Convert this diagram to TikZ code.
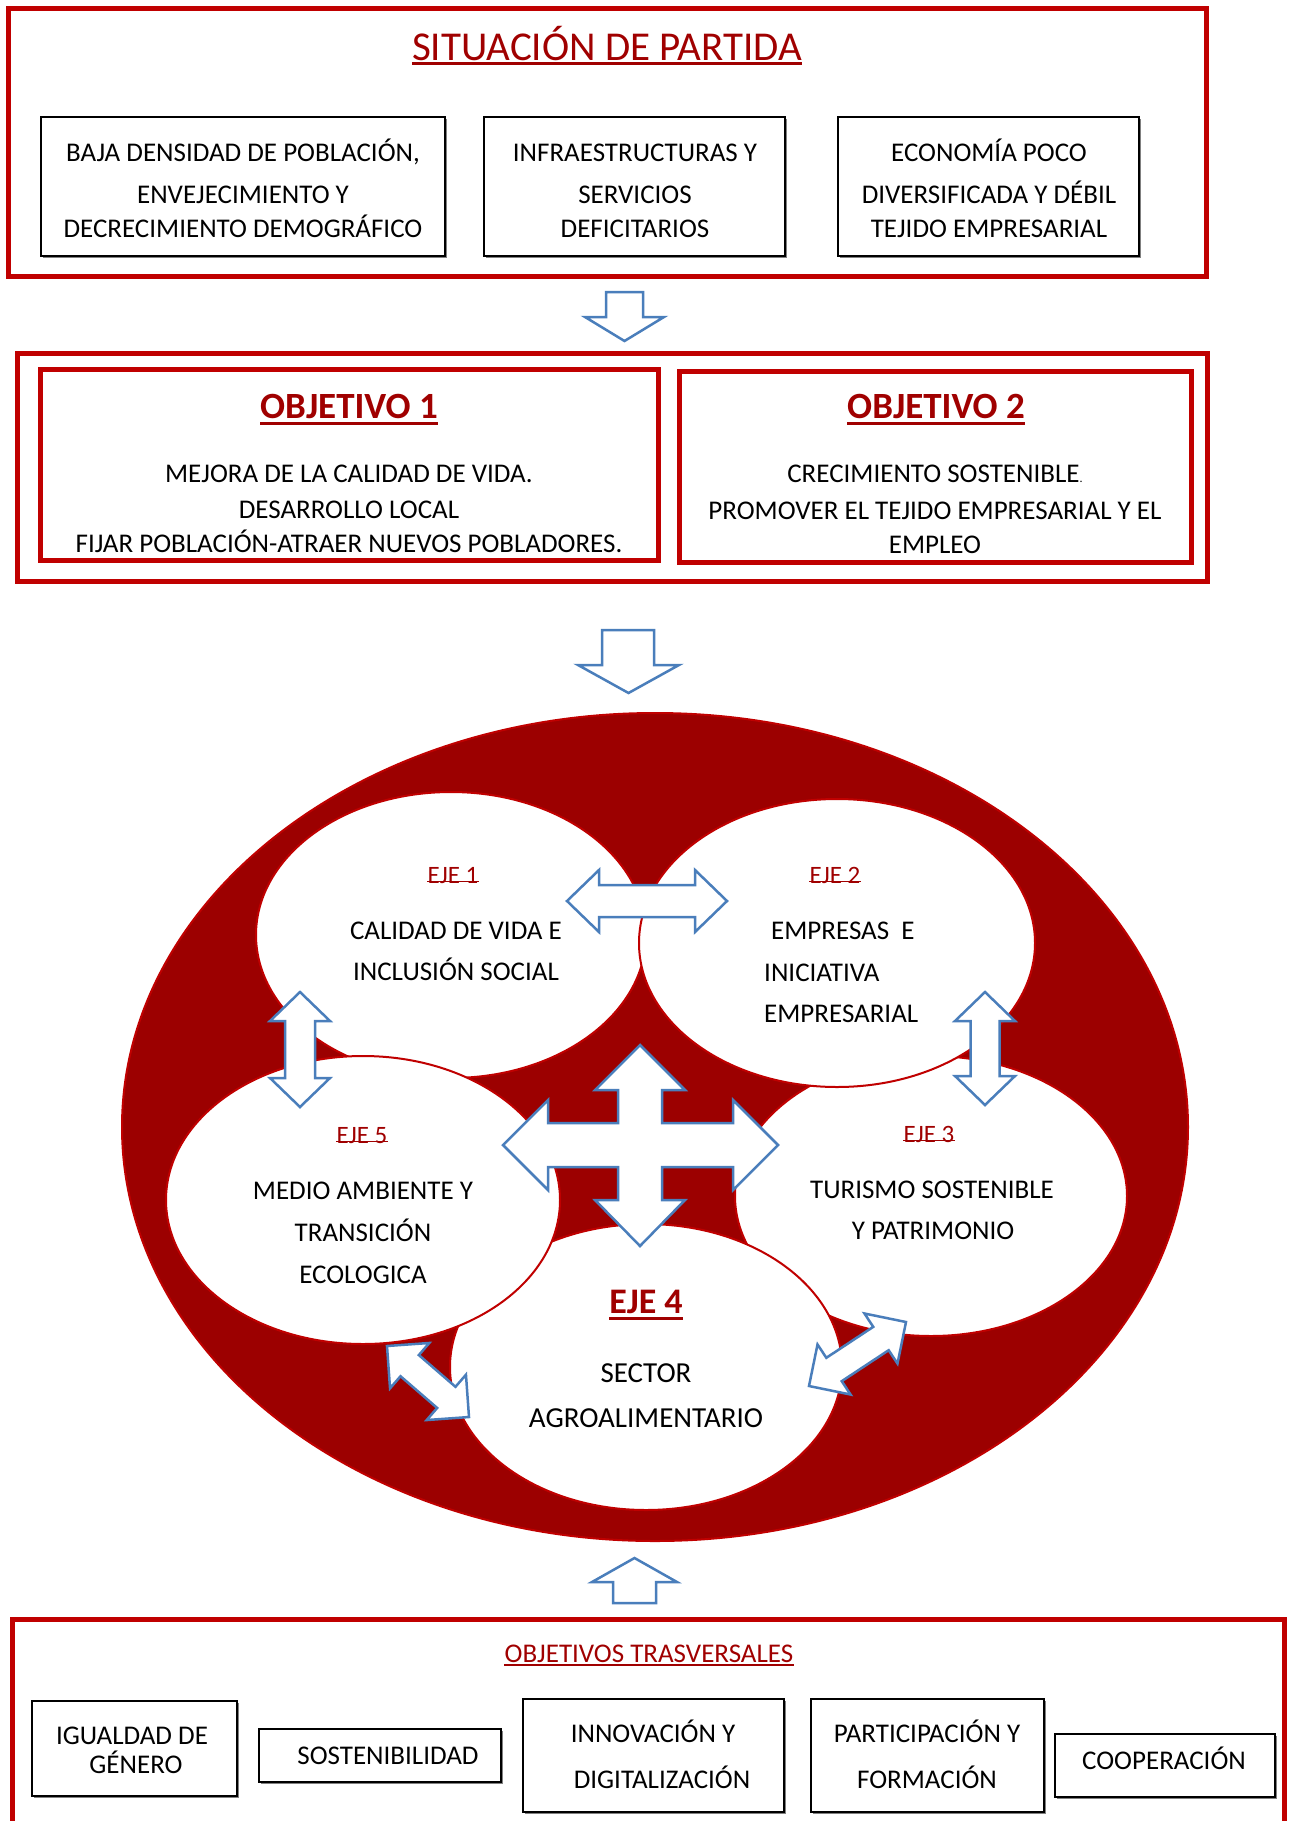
\documentclass[tikz,border=0pt]{standalone}
\usepackage{fontspec}
\setmainfont{Carlito}
\usetikzlibrary{shapes.geometric,calc,shadows}
\definecolor{boxred}{HTML}{C00000}
\definecolor{ringred}{HTML}{9C0000}
\definecolor{titred}{HTML}{A00000}
\definecolor{arrowblue}{HTML}{4A7EBB}
\newcommand\dblblock[6]{% tipA, tipB, head length, head half width, shaft half width, style
  \draw[#6] ($(#1)!#3!(#2)!#4!90:(#2)$) -- (#1) -- ($(#1)!#3!(#2)!#4!-90:(#2)$)
    -- ($(#1)!#3!(#2)!#5!-90:(#2)$) -- ($(#2)!#3!(#1)!#5!90:(#1)$)
    -- ($(#2)!#3!(#1)!#4!90:(#1)$) -- (#2) -- ($(#2)!#3!(#1)!#4!-90:(#1)$)
    -- ($(#2)!#3!(#1)!#5!-90:(#1)$) -- ($(#1)!#3!(#2)!#5!90:(#2)$) -- cycle;}
\begin{document}
\begin{tikzpicture}[x=1pt,y=-1pt,
  redframe/.style={draw=boxred, line width=5pt, inner sep=0pt},
  blackbox/.style={draw=black, line width=2pt, fill=white, inner sep=0pt,
     drop shadow={shadow xshift=2pt, shadow yshift=-2pt, fill=black!50, opacity=1}},
  txt/.style={anchor=base, inner sep=0pt, font=\fontsize{27}{32}\selectfont},
  redtxt/.style={txt, text=titred},
  ejelab/.style={anchor=base, inner sep=0pt, text=titred, font=\fontsize{25}{30}\selectfont},
  ejeline/.style={draw=titred, line width=1.5pt},
  eje/.style={shape=ellipse, draw=boxred, line width=2pt, fill=white, inner sep=0pt},
  blockarrow/.style={draw=arrowblue, line width=2.5pt, fill=white, line join=miter},
  ul/.style={draw=titred, line width=2.5pt}
]
\useasboundingbox (0,0) rectangle (1291,1821);
\clip (0,0) rectangle (1291,1821);

% ---------- Situacion de partida ----------
\node[redframe, minimum width=1198pt, minimum height=268pt] (top) at (607.5,142.5) {};
\node[redtxt, font=\fontsize{41}{49}\selectfont] (title) at (607,60) {SITUACIÓN DE PARTIDA};
\draw[ul] ([yshift=-3.5pt]title.base west) -- ([yshift=-3.5pt]title.base east);

\node[blackbox, minimum width=404pt, minimum height=139pt] (b1) at (243,186.5) {};
\node[blackbox, minimum width=301pt, minimum height=139pt] (b2) at (634.5,186.5) {};
\node[blackbox, minimum width=301pt, minimum height=139pt] (b3) at (988.5,186.5) {};

\node[txt] (b1a) at (243,161) {BAJA DENSIDAD DE POBLACIÓN,};
\node[txt] (b1b) at (243,203) {ENVEJECIMIENTO Y};
\node[txt] (b1c) at (243,237) {DECRECIMIENTO DEMOGRÁFICO};
\node[txt] (b2a) at (635,161) {INFRAESTRUCTURAS Y};
\node[txt] (b2b) at (635,203) {SERVICIOS};
\node[txt] (b2c) at (635,237) {DEFICITARIOS};
\node[txt] (b3a) at (989,161) {ECONOMÍA POCO};
\node[txt] (b3b) at (989,203) {DIVERSIFICADA Y DÉBIL};
\node[txt] (b3c) at (989,237) {TEJIDO EMPRESARIAL};

% arrow 1
\draw[blockarrow] (606,292) -- (643,292) -- (643,317) -- (664,317) -- (624.5,341)
  -- (585,317) -- (606,317) -- cycle;

% ---------- Objetivos ----------
\node[redframe, minimum width=1190pt, minimum height=228pt] (objs) at (612.5,467.5) {};
\node[redframe, minimum width=618pt, minimum height=191pt] (o1) at (349.5,465) {};
\node[redframe, minimum width=512pt, minimum height=191pt] (o2) at (935.5,467) {};

\node[redtxt, font=\bfseries\fontsize{37}{44}\selectfont] (o1t) at (349,418) {OBJETIVO 1};
\draw[ul, line width=3pt] ([yshift=-5pt]o1t.base west) -- ([yshift=-5pt]o1t.base east);
\node[redtxt, font=\bfseries\fontsize{37}{44}\selectfont] (o2t) at (936,418) {OBJETIVO 2};
\draw[ul, line width=3pt] ([yshift=-5pt]o2t.base west) -- ([yshift=-5pt]o2t.base east);

\node[txt] (o1a) at (349,482) {MEJORA DE LA CALIDAD DE VIDA.};
\node[txt] (o1b) at (349,518) {DESARROLLO LOCAL};
\node[txt] (o1c) at (349,552) {FIJAR POBLACIÓN-ATRAER NUEVOS POBLADORES.};
\node[txt] (o2a) at (935,482) {CRECIMIENTO SOSTENIBLE{\fontsize{12}{12}\selectfont .}};
\node[txt] (o2b) at (935,519) {PROMOVER EL TEJIDO EMPRESARIAL Y EL};
\node[txt] (o2c) at (935,553) {EMPLEO};

% arrow 2
\draw[blockarrow] (602,630) -- (654,630) -- (654,665) -- (679,665) -- (628.5,693)
  -- (578,665) -- (602,665) -- cycle;

% ---------- Ejes ----------
\node[shape=ellipse, draw=boxred, line width=2pt, fill=ringred, inner sep=0pt,
      minimum width=1066pt, minimum height=828pt] (ring) at (655,1127) {};
\node[eje, minimum width=392pt, minimum height=280pt] (e3) at (931,1196) {};
\node[eje, minimum width=392pt, minimum height=286pt] (e4) at (646,1367) {};
\node[eje, minimum width=390pt, minimum height=286pt] (e1) at (451,935) {};
\node[eje, minimum width=394pt, minimum height=288pt] (e5) at (363,1200) {};
\node[eje, minimum width=396pt, minimum height=288pt] (e2) at (837,943) {};

\node[ejelab] (e1l) at (453,883) {EJE 1};
\draw[ejeline] ([yshift=1.5pt]e1l.base west) -- ([yshift=1.5pt]e1l.base east);
\node[txt] (e1a) at (456,939) {CALIDAD DE VIDA E};
\node[txt] (e1b) at (456,980) {INCLUSIÓN SOCIAL};

\node[ejelab] (e2l) at (835,883) {EJE 2};
\draw[ejeline] ([yshift=1.5pt]e2l.base west) -- ([yshift=1.5pt]e2l.base east);
\node[txt, anchor=base west] (e2a) at (771,939) {EMPRESAS\ \ E};
\node[txt, anchor=base west] (e2b) at (764,981) {INICIATIVA};
\node[txt, anchor=base west] (e2c) at (764,1022) {EMPRESARIAL};

\node[ejelab] (e3l) at (929,1142) {EJE 3};
\draw[ejeline] ([yshift=1.5pt]e3l.base west) -- ([yshift=1.5pt]e3l.base east);
\node[txt] (e3a) at (932,1198) {TURISMO SOSTENIBLE};
\node[txt] (e3b) at (933,1239) {Y PATRIMONIO};

\node[ejelab] (e5l) at (362,1143) {EJE 5};
\draw[ejeline] ([yshift=1.5pt]e5l.base west) -- ([yshift=1.5pt]e5l.base east);
\node[txt] (e5a) at (363,1199) {MEDIO AMBIENTE Y};
\node[txt] (e5b) at (363,1241) {TRANSICIÓN};
\node[txt] (e5c) at (363,1283) {ECOLOGICA};

\node[redtxt, font=\bfseries\fontsize{36}{42}\selectfont] (e4l) at (646,1313) {EJE 4};
\draw[ul, line width=3pt] ([yshift=-5pt]e4l.base west) -- ([yshift=-5pt]e4l.base east);
\node[txt, font=\fontsize{29}{34}\selectfont] (e4a) at (646,1382) {SECTOR};
\node[txt, font=\fontsize{29}{34}\selectfont] (e4b) at (646,1427) {AGROALIMENTARIO};

% connecting block arrows
\coordinate (h1) at (567,901);  \coordinate (h2) at (727,901);
\coordinate (l1) at (300,992);  \coordinate (l2) at (300,1107);
\coordinate (r1) at (985,992);  \coordinate (r2) at (985,1105);
\coordinate (d1) at (387,1346); \coordinate (d2) at (469,1417);
\coordinate (g1) at (809,1386); \coordinate (g2) at (906,1322);
\dblblock{h1}{h2}{32pt}{31pt}{16pt}{blockarrow}
\dblblock{l1}{l2}{29pt}{30pt}{15pt}{blockarrow}
\dblblock{r1}{r2}{29pt}{30pt}{14.5pt}{blockarrow}
\dblblock{d1}{d2}{30pt}{30pt}{14pt}{blockarrow}
\dblblock{g1}{g2}{30pt}{30pt}{14pt}{blockarrow}

% four-way arrow
\draw[blockarrow] (640,1045) -- (685,1090) -- (662,1090) -- (662,1123) -- (733,1123)
  -- (733,1100) -- (778,1145) -- (733,1190) -- (733,1167) -- (662,1167) -- (662,1200)
  -- (685,1200) -- (640,1246) -- (595,1200) -- (618,1200) -- (618,1167) -- (548,1167)
  -- (548,1190) -- (503,1145) -- (548,1100) -- (548,1123) -- (618,1123) -- (618,1090)
  -- (595,1090) -- cycle;

% arrow 3 (up)
\draw[blockarrow] (634.5,1558) -- (677,1582) -- (656,1582) -- (656,1603) -- (613,1603)
  -- (613,1582) -- (592,1582) -- cycle;

% ---------- Objetivos trasversales ----------
\node[redframe, anchor=north, minimum width=1272pt, minimum height=240pt] (bot) at (648.5,1616.5) {};
\node[redtxt] (bott) at (649,1662) {OBJETIVOS TRASVERSALES};
\draw[ul, line width=2pt] ([yshift=-2.5pt]bott.base west) -- ([yshift=-2.5pt]bott.base east);

\node[blackbox, minimum width=205pt, minimum height=95pt] (t1) at (134.5,1748.5) {};
\node[blackbox, minimum width=242pt, minimum height=53pt] (t2) at (380,1755) {};
\node[blackbox, minimum width=261pt, minimum height=113pt] (t3) at (653.5,1755.5) {};
\node[blackbox, minimum width=233pt, minimum height=113pt] (t4) at (927.5,1755.5) {};
\node[blackbox, minimum width=220pt, minimum height=63pt] (t5) at (1165,1765) {};

\node[txt] (t1a) at (132,1744) {IGUALDAD DE};
\node[txt] (t1b) at (136,1773) {GÉNERO};
\node[txt] (t2a) at (388,1764) {SOSTENIBILIDAD};
\node[txt] (t3a) at (653,1742) {INNOVACIÓN Y};
\node[txt] (t3b) at (662,1788) {DIGITALIZACIÓN};
\node[txt] (t4a) at (927,1742) {PARTICIPACIÓN Y};
\node[txt] (t4b) at (927,1788) {FORMACIÓN};
\node[txt] (t5a) at (1164,1769) {COOPERACIÓN};
\end{tikzpicture}
\end{document}
